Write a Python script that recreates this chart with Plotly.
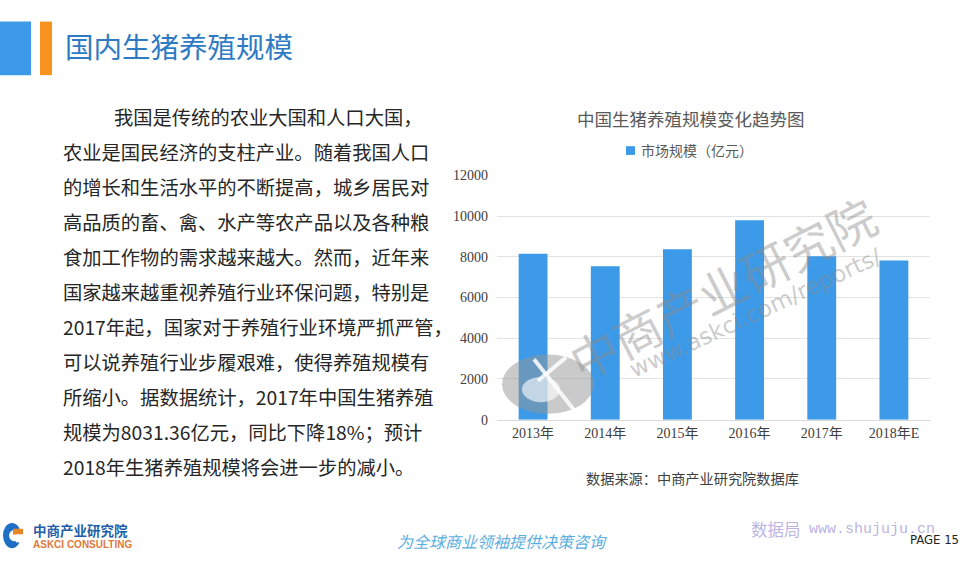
import plotly.graph_objects as go

categories = ["2013年", "2014年", "2015年", "2016年", "2017年", "2018年E"]
market_size = [8150, 7540, 8370, 9800, 8031.36, 7820]
y_ticks = [0, 2000, 4000, 6000, 8000, 10000, 12000]
series_name = "市场规模（亿元）"

body_lines = [
    "我国是传统的农业大国和人口大国，",
    "农业是国民经济的支柱产业。随着我国人口",
    "的增长和生活水平的不断提高，城乡居民对",
    "高品质的畜、禽、水产等农产品以及各种粮",
    "食加工作物的需求越来越大。然而，近年来",
    "国家越来越重视养殖行业环保问题，特别是",
    "2017年起，国家对于养殖行业环境严抓严管，",
    "可以说养殖行业步履艰难，使得养殖规模有",
    "所缩小。据数据统计，2017年中国生猪养殖",
    "规模为8031.36亿元，同比下降18%；预计",
    "2018年生猪养殖规模将会进一步的减小。",
]

W, H = 976, 563
CJK = "Noto Sans CJK SC"
SERIF = "Liberation Serif"
bar_color = "#3D9AE8"

fig = go.Figure()
fig.add_trace(go.Bar(
    x=categories, y=market_size, name=series_name,
    marker=dict(color=bar_color, line=dict(width=0)),
    showlegend=False,
))

def px(x):
    return x / W

def py(y):
    return 1 - y / H

annotations = []
shapes = []

def note(text, x, y, size, color, family=CJK, xanchor="left", angle=0):
    annotations.append(dict(text=text, x=px(x), y=py(y), xref="paper", yref="paper",
                            xanchor=xanchor, yanchor="middle", showarrow=False, textangle=angle,
                            font=dict(family=family, size=size, color=color)))

def rect(x0, y0, x1, y1, color, layer="above"):
    shapes.append(dict(type="rect", xref="paper", yref="paper", x0=px(x0), x1=px(x1),
                       y0=py(y1), y1=py(y0), fillcolor=color, line=dict(width=0), layer=layer))

# Header bars
rect(0, 15, 31, 70, "#3D9AE8")
rect(40, 15, 52, 70, "#F7931E")
note("国内生猪养殖规模", 63, 40, 28.5, "#2E7BC4")

# Body text
for i, line in enumerate(body_lines):
    x0 = 112 if i == 0 else 61
    note(line, x0, 113 + 36 * i, 19.3, "#262626")

# Chart title and legend
note("中国生猪养殖规模变化趋势图", 691, 115, 17.5, "#595959", xanchor="center")
rect(626, 143, 635, 152, bar_color)
note(series_name, 639, 147, 14, "#595959")

# Source
note("数据来源：中商产业研究院数据库", 692, 484, 14.2, "#404040", xanchor="center")

# Watermark logo (ellipse with cross cut)
shapes.append(dict(type="circle", xref="paper", yref="paper", x0=px(502), x1=px(594), y0=py(418), y1=py(357),
                   fillcolor="rgba(150,150,150,0.5)", line=dict(width=0), layer="above"))
shapes.append(dict(type="circle", xref="paper", yref="paper", x0=px(522), x1=px(560), y0=py(406), y1=py(380),
                   fillcolor="rgba(255,255,255,0.6)", line=dict(width=0), layer="above"))
shapes.append(dict(type="line", xref="paper", yref="paper", x0=px(534), y0=py(362), x1=px(574), y1=py(414),
                   line=dict(color="rgba(255,255,255,0.85)", width=4), layer="above"))
shapes.append(dict(type="line", xref="paper", yref="paper", x0=px(538), y0=py(384), x1=px(566), y1=py(360),
                   line=dict(color="rgba(255,255,255,0.85)", width=4), layer="above"))

# Watermark text
note("中商产业研究院", 722, 288, 48, "rgba(140,140,140,0.45)", xanchor="center", angle=-27)
note("www.askci.com/reports/", 755, 314, 23, "rgba(140,140,140,0.45)", family="DejaVu Sans",
     xanchor="center", angle=-25)

# Footer logo
shapes.append(dict(type="circle", xref="paper", yref="paper", x0=px(3), x1=px(21), y0=py(556), y1=py(530),
                   fillcolor="#1F6FC5", line=dict(width=0)))
shapes.append(dict(type="circle", xref="paper", yref="paper", x0=px(9), x1=px(21), y0=py(549), y1=py(537),
                   fillcolor="white", line=dict(width=0)))
rect(13, 536, 23, 542, "#E8862A")
rect(16, 542, 23, 550, "white")
note("<b>中商产业研究院</b>", 31, 537, 13.5, "#1F5FA8")
note("<b>ASKCI CONSULTING</b>", 31, 552.5, 10, "#E07A3A", family="Liberation Sans Narrow, Liberation Sans")

# Footer slogan and page
note("<i>为全球商业领袖提供决策咨询</i>", 502, 549, 16, "#5AAEDF", xanchor="center")
note("数据局", 749, 536, 16.5, "rgba(170,160,220,0.8)")
note("www.shujuju.cn", 807, 537, 15, "rgba(170,160,220,0.8)", family="Liberation Mono, DejaVu Sans Mono")
note("PAGE 15", 961, 547, 13, "#222222", family="DejaVu Sans Condensed, DejaVu Sans", xanchor="right")

fig.update_layout(
    width=W, height=H,
    margin=dict(l=0, r=0, t=0, b=0, pad=0),
    paper_bgcolor="white", plot_bgcolor="white",
    bargap=0.6,
    xaxis=dict(domain=[px(497), px(930)], showline=True, linecolor="#D9D9D9", linewidth=1, ticks="",
               tickfont=dict(family=SERIF + ", " + CJK, size=14, color="#404040"),
               showgrid=False, fixedrange=True),
    yaxis=dict(domain=[py(424), py(173)], range=[0, 12000], tickvals=y_ticks, tickformat="d",
               showgrid=True, gridcolor="#E3E3E3",
               gridwidth=1, zeroline=False, showline=False, ticks="",
               tickfont=dict(family=SERIF, size=14, color="#404040"), ticklabelstandoff=8,
               fixedrange=True),
    annotations=annotations,
    shapes=shapes,
    showlegend=False,
)

fig.write_html("out.html")
